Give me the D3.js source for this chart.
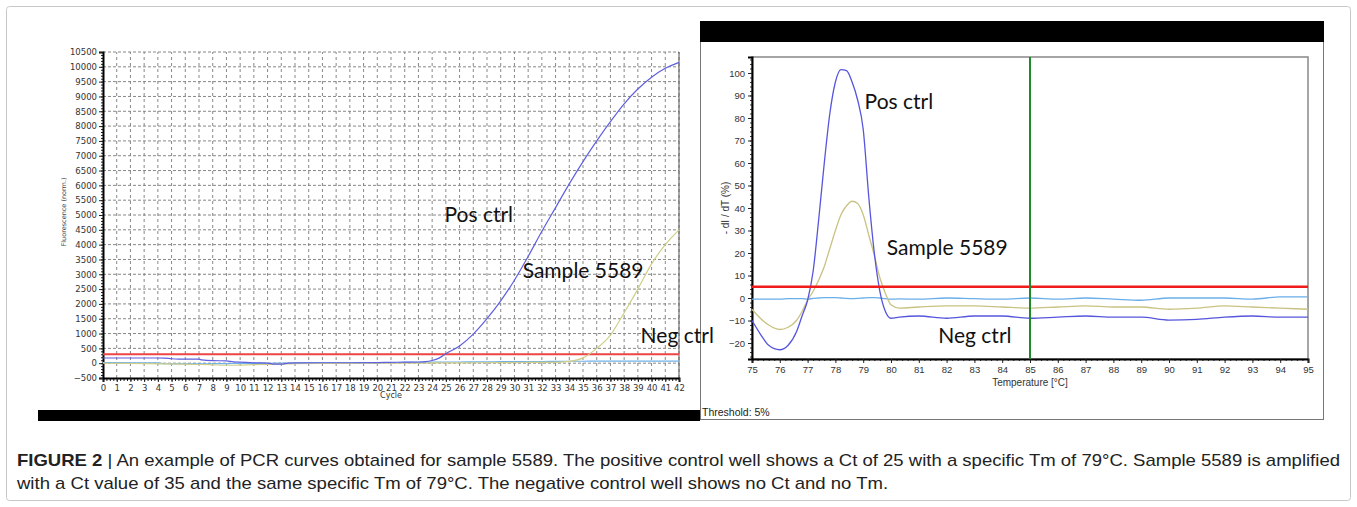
<!DOCTYPE html>
<html>
<head>
<meta charset="utf-8">
<script src="https://cdn.jsdelivr.net/npm/d3@7"></script>
<style>
  body { margin: 0; background: #fff; }
  svg { display: block; }
</style>
</head>
<body>
<div id="fig"></div>
<script>
// ---- amplification plot (left) ----
var ampCycles = [0, 1, 2, 3, 4, 4.5, 5, 5.5, 6, 7, 7.2, 8, 9, 9.5, 10, 11, 12, 12.5, 13, 13.5, 14, 16, 18, 20, 21, 22, 23, 23.5, 24, 24.5, 25, 26, 27, 28, 29, 30, 31, 32, 33, 34, 35, 36, 37, 38, 39, 40, 41, 42];
var ampPos = [175, 175, 175, 175, 175, 170, 150, 140, 140, 135, 110, 85, 80, 45, 35, 10, 5, -30, -30, 5, 10, 15, 15, 20, 30, 35, 40, 50, 90, 170, 320, 580, 980, 1500, 2100, 2800, 3600, 4450, 5250, 6050, 6800, 7500, 8150, 8750, 9250, 9650, 9950, 10150];
var ampSample = [0, -5, -10, -15, -20, -20, -25, -30, -35, -45, -45, -55, -70, -70, -65, -50, -40, -35, -30, -25, -20, -10, -5, 0, 0, 5, 5, 5, 10, 10, 10, 10, 15, 15, 20, 20, 25, 25, 30, 60, 180, 500, 950, 1700, 2500, 3350, 4000, 4500];
var ampNeg = [20, 20, 15, 15, 10, -20, -25, -25, -25, -25, -25, -20, -15, -10, -10, -5, -5, 0, 0, 5, 5, 10, 15, 20, 20, 25, 30, 30, 35, 35, 40, 40, 45, 45, 50, 50, 55, 55, 60, 65, 65, 70, 70, 70, 70, 70, 70, 70];
var ampThreshold = 300;
var ampYTicks = d3.range(-500, 10501, 500);
var ampXTicks = d3.range(0, 43, 1);

// ---- melt curve (right) ----
var meltTemps = [75, 75.3, 75.6, 76, 76.3, 76.6, 76.8, 77, 77.2, 77.4, 77.6, 77.8, 78, 78.2, 78.4, 78.6, 78.8, 79, 79.2, 79.4, 79.6, 79.8, 80, 80.3, 81, 82, 83, 84, 85, 86, 87, 88, 89, 90, 91, 92, 93, 94, 95];
var meltPos = [-10, -16, -21, -23, -21, -15, -8, -1, 12, 35, 60, 82, 96, 101.5, 101, 96, 88, 75, 45, 20, 3, -6, -9, -8.5, -8, -9, -8, -8, -9, -8.5, -8, -8.5, -8.5, -9.8, -9.5, -8.5, -8, -8.5, -8.5];
var meltSample = [-5, -9, -12, -14, -13, -10, -6, -1, 3, 8, 14, 22, 30, 37, 41, 43, 42, 37, 28, 19, 9, 2, -3, -4.5, -4, -3.5, -3.5, -4, -4.5, -4, -3.5, -4, -4, -5, -4.5, -3.5, -4, -4.5, -5];
var meltNeg = [-0.5, -0.5, -0.5, -0.5, -0.3, -0.3, -0.3, -0.5, -0.2, 0, 0.2, 0.2, 0.2, 0, -0.2, -0.3, -0.2, 0, 0.2, 0.2, 0, -0.3, -0.5, -0.4, -0.5, 0, -0.3, -0.5, 0, -0.5, 0, -0.5, -1, 0, 0, 0, -0.5, 0.5, 0.5];
var meltThreshold = 5;
var meltTm = 85;
var meltYTicks = d3.range(-20, 101, 10);
var meltXTicks = d3.range(75, 96, 1);

var captionBold = "FIGURE 2 ";
var captionLine1 = "| An example of PCR curves obtained for sample 5589. The positive control well shows a Ct of 25 with a specific Tm of 79\u00B0C. Sample 5589 is amplified";
var captionLine2 = "with a Ct value of 35 and the same specific Tm of 79\u00B0C. The negative control well shows no Ct and no Tm.";

var W = 1357, H = 507;
var tickFont = "'DejaVu Sans', Verdana, sans-serif";
var narrowFont = "'Liberation Sans', Arial, sans-serif";
var noteFont = "Lato, 'Open Sans', sans-serif";
var fmt = d3.format('d');

var svg = d3.select('#fig')
    .append('svg')
    .attr('width', W)
    .attr('height', H);

// outer frame
svg.append('rect')
    .attr('x', 6.5).attr('y', 6.5)
    .attr('width', 1344).attr('height', 494)
    .attr('rx', 3)
    .attr('fill', 'none')
    .attr('stroke', '#c8c8c8');

/*
 *  LEFT: amplification
 */
var ax = d3.scaleLinear().domain([0, 42]).range([103, 679]);
var ay = d3.scaleLinear().domain([-500, 10500]).range([378, 52]);

var amp = svg.append('g').attr('class', 'amp');

// grid
amp.selectAll('.hgrid')
    .data(ampYTicks.filter(function(d) { return d > -500; }))
    .enter().append('line')
    .attr('class', 'hgrid')
    .attr('x1', ax(0)).attr('x2', ax(42))
    .attr('y1', function(d) { return ay(d); })
    .attr('y2', function(d) { return ay(d); })
    .attr('stroke', '#7a7a7a')
    .attr('stroke-width', 0.9)
    .attr('stroke-dasharray', '3,2');

amp.selectAll('.vgrid')
    .data(ampXTicks.filter(function(d) { return d > 0; }))
    .enter().append('line')
    .attr('class', 'vgrid')
    .attr('y1', ay(-500)).attr('y2', ay(10500))
    .attr('x1', function(d) { return ax(d); })
    .attr('x2', function(d) { return ax(d); })
    .attr('stroke', '#7a7a7a')
    .attr('stroke-width', 0.9)
    .attr('stroke-dasharray', '3,3');

// right border
amp.append('line')
    .attr('x1', ax(42)).attr('x2', ax(42))
    .attr('y1', ay(10500)).attr('y2', ay(-500))
    .attr('stroke', '#555');

// minor ticks
amp.append('g')
    .attr('transform', 'translate(0,' + ay(-500) + ')')
    .call(d3.axisBottom(ax).tickValues(d3.range(0, 42.01, 0.25)).tickSize(3).tickFormat(''))
    .call(function(g) { g.select('.domain').remove(); g.selectAll('line').attr('stroke', '#222'); });
amp.append('g')
    .attr('transform', 'translate(' + ax(0) + ',0)')
    .call(d3.axisLeft(ay).tickValues(d3.range(-500, 10501, 100)).tickSize(2).tickFormat(''))
    .call(function(g) { g.select('.domain').remove(); g.selectAll('line').attr('stroke', '#222'); });

// axes
var axB = amp.append('g')
    .attr('transform', 'translate(0,' + ay(-500) + ')')
    .call(d3.axisBottom(ax).tickValues(ampXTicks).tickSize(4).tickPadding(3).tickFormat(fmt));
var axL = amp.append('g')
    .attr('transform', 'translate(' + ax(0) + ',0)')
    .call(d3.axisLeft(ay).tickValues(ampYTicks).tickSize(4).tickPadding(2).tickFormat(fmt));
[axB, axL].forEach(function(g) {
    g.select('.domain').attr('stroke', '#000').attr('stroke-width', 2);
    g.selectAll('line').attr('stroke', '#222');
    g.selectAll('text')
        .attr('font-family', tickFont)
        .attr('font-size', 8.5)
        .attr('fill', '#333');
});

amp.append('text')
    .attr('x', (ax(0) + ax(42)) / 2)
    .attr('y', 398)
    .attr('text-anchor', 'middle')
    .attr('font-family', tickFont)
    .attr('font-size', 8)
    .attr('fill', '#333')
    .text('Cycle');

amp.append('text')
    .attr('transform', 'translate(66,212)rotate(-90)')
    .attr('text-anchor', 'middle')
    .attr('font-family', tickFont)
    .attr('font-size', 6.5)
    .attr('fill', '#444')
    .text('Fluorescence (norm.)');

var ampLine = function(vals) {
    return d3.line()
        .x(function(d, i) { return ax(ampCycles[i]); })
        .y(function(d) { return ay(d); })
        .curve(d3.curveMonotoneX)(vals);
};

amp.append('line')
    .attr('x1', ax(0)).attr('x2', ax(42))
    .attr('y1', ay(ampThreshold)).attr('y2', ay(ampThreshold))
    .attr('stroke', '#ee4444')
    .attr('stroke-width', 2);

amp.append('path').attr('d', ampLine(ampNeg))
    .attr('fill', 'none').attr('stroke', '#6fb0e8').attr('stroke-width', 1.2);
amp.append('path').attr('d', ampLine(ampSample))
    .attr('fill', 'none').attr('stroke', '#cfcf8a').attr('stroke-width', 1.2);
amp.append('path').attr('d', ampLine(ampPos))
    .attr('fill', 'none').attr('stroke', '#5f5fe0').attr('stroke-width', 1.2);

// black bar under left panel
svg.append('rect')
    .attr('x', 38).attr('y', 410)
    .attr('width', 662).attr('height', 11)
    .attr('fill', '#000');

/*
 *  RIGHT: melt curve
 */
var mx = d3.scaleLinear().domain([75, 95]).range([752, 1308]);
var my = d3.scaleLinear().domain([-27.1, 107.1]).range([359, 57]);

var melt = svg.append('g').attr('class', 'melt');

melt.append('rect')
    .attr('x', 700.5).attr('y', 21.5)
    .attr('width', 623).attr('height', 398)
    .attr('fill', '#fff')
    .attr('stroke', '#777');
melt.append('rect')
    .attr('x', 700).attr('y', 21)
    .attr('width', 624).attr('height', 21)
    .attr('fill', '#000');

melt.append('rect')
    .attr('x', mx(75)).attr('y', my(107.1))
    .attr('width', mx(95) - mx(75)).attr('height', my(-27.1) - my(107.1))
    .attr('fill', 'none')
    .attr('stroke', '#888')
    .attr('stroke-width', 1.5);

// minor ticks
melt.append('g')
    .attr('transform', 'translate(0,' + my(-27.1) + ')')
    .call(d3.axisBottom(mx).tickValues(d3.range(75, 95.01, 0.2)).tickSize(2).tickFormat(''))
    .call(function(g) { g.select('.domain').remove(); g.selectAll('line').attr('stroke', '#333'); });
melt.append('g')
    .attr('transform', 'translate(' + mx(75) + ',0)')
    .call(d3.axisLeft(my).tickValues(d3.range(-26, 107, 2)).tickSize(2).tickFormat(''))
    .call(function(g) { g.select('.domain').remove(); g.selectAll('line').attr('stroke', '#333'); });

var mB = melt.append('g')
    .attr('transform', 'translate(0,' + my(-27.1) + ')')
    .call(d3.axisBottom(mx).tickValues(meltXTicks).tickSize(4).tickPadding(3).tickFormat(fmt));
var mL = melt.append('g')
    .attr('transform', 'translate(' + mx(75) + ',0)')
    .call(d3.axisLeft(my).tickValues(meltYTicks).tickSize(4).tickPadding(3).tickFormat(fmt));
[mB, mL].forEach(function(g) {
    g.select('.domain').attr('stroke', '#000').attr('stroke-width', 2);
    g.selectAll('line').attr('stroke', '#222');
    g.selectAll('text')
        .attr('font-family', narrowFont)
        .attr('font-size', 9.5)
        .attr('transform', 'scale(0.85,1)')
        .attr('fill', '#333');
});
mB.selectAll('.tick text').attr('transform', null);
mL.selectAll('.tick text').attr('transform', null);

melt.append('text')
    .attr('x', (mx(75) + mx(95)) / 2)
    .attr('y', 386)
    .attr('text-anchor', 'middle')
    .attr('font-family', narrowFont)
    .attr('font-size', 10)
    .attr('fill', '#333')
    .text('Temperature [\u00B0C]');

melt.append('text')
    .attr('transform', 'translate(729,208)rotate(-90)')
    .attr('text-anchor', 'middle')
    .attr('font-family', narrowFont)
    .attr('font-size', 10)
    .attr('fill', '#333')
    .text('- dI / dT (%)');

melt.append('text')
    .attr('x', 702)
    .attr('y', 416)
    .attr('font-family', narrowFont)
    .attr('font-size', 10.5)
    .attr('fill', '#222')
    .text('Threshold:  5%');

var meltLine = function(vals) {
    return d3.line()
        .x(function(d, i) { return mx(meltTemps[i]); })
        .y(function(d) { return my(d); })
        .curve(d3.curveMonotoneX)(vals);
};

melt.append('path').attr('d', meltLine(meltNeg))
    .attr('fill', 'none').attr('stroke', '#6aaeea').attr('stroke-width', 1.3);
melt.append('path').attr('d', meltLine(meltSample))
    .attr('fill', 'none').attr('stroke', '#c9c282').attr('stroke-width', 1.3);
melt.append('path').attr('d', meltLine(meltPos))
    .attr('fill', 'none').attr('stroke', '#5555dd').attr('stroke-width', 1.3);

melt.append('line')
    .attr('x1', mx(75)).attr('x2', mx(95))
    .attr('y1', my(meltThreshold)).attr('y2', my(meltThreshold))
    .attr('stroke', '#f01c1c')
    .attr('stroke-width', 2.5);
melt.append('line')
    .attr('x1', mx(meltTm)).attr('x2', mx(meltTm))
    .attr('y1', my(107.1)).attr('y2', my(-27.1))
    .attr('stroke', '#1f8a2a')
    .attr('stroke-width', 2);

/*
 *  annotations
 */
var notes = [
    { t: 'Pos ctrl', x: ax(24.9), y: 222 },
    { t: 'Sample 5589', x: ax(30.6), y: 278 },
    { t: 'Neg ctrl', x: ax(39.2), y: 343 },
    { t: 'Pos ctrl', x: mx(79.05), y: 109 },
    { t: 'Sample 5589', x: mx(79.85), y: 255 },
    { t: 'Neg ctrl', x: mx(81.7), y: 343 }
];
svg.selectAll('.note')
    .data(notes)
    .enter().append('text')
    .attr('class', 'note')
    .attr('x', function(d) { return d.x; })
    .attr('y', function(d) { return d.y; })
    .attr('font-family', noteFont)
    .attr('font-size', 21)
    .attr('fill', '#111')
    .text(function(d) { return d.t; });

/*
 *  caption
 */
var cap = svg.append('g').attr('class', 'caption');
var l1 = cap.append('text')
    .attr('x', 17).attr('y', 466)
    .attr('font-family', narrowFont)
    .attr('font-size', 17)
    .attr('fill', '#222');
l1.append('tspan').attr('font-weight', 'bold').text(captionBold);
l1.append('tspan').attr('font-weight', 'normal').text(captionLine1);
var l2 = cap.append('text')
    .attr('x', 17).attr('y', 489)
    .attr('font-family', narrowFont)
    .attr('font-size', 17)
    .attr('fill', '#222')
    .text(captionLine2);

var w1 = l1.node().getComputedTextLength();
var w2 = l2.node().getComputedTextLength();
var k = (1340 - 17) / w1;
l1.attr('textLength', w1 * k).attr('lengthAdjust', 'spacingAndGlyphs');
l2.attr('textLength', w2 * k).attr('lengthAdjust', 'spacingAndGlyphs');
</script>
</body>
</html>
